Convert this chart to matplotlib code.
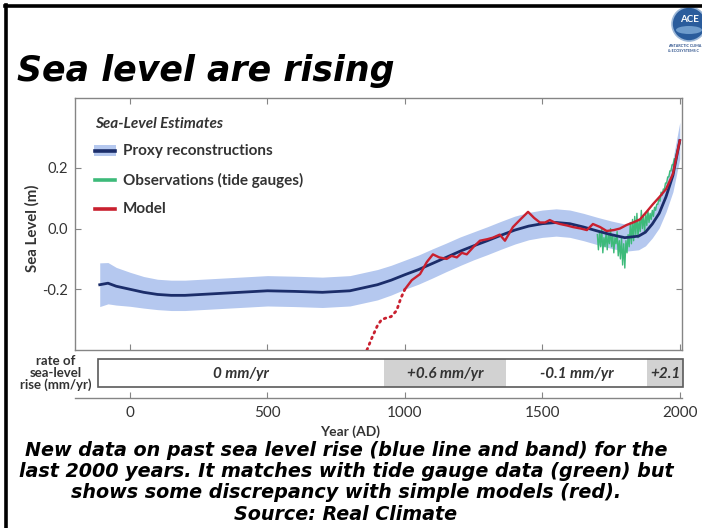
import matplotlib
matplotlib.use("Agg")
import matplotlib.pyplot as plt
import numpy as np
from matplotlib.lines import Line2D
from matplotlib.patches import Rectangle, Ellipse

# ---------------- data ----------------
proxy_years = [-110, -80, -50, 0, 50, 100, 150, 200, 300, 400, 500, 600, 700,
               800, 850, 900, 950, 1000, 1050, 1100, 1150, 1200, 1250, 1300,
               1350, 1400, 1450, 1500, 1550, 1600, 1650, 1700, 1750, 1800,
               1850, 1875, 1900, 1925, 1950, 1975, 2000]
proxy_level = [-0.185, -0.180, -0.190, -0.200, -0.210, -0.217, -0.220, -0.220,
               -0.215, -0.210, -0.205, -0.207, -0.210, -0.205, -0.195, -0.185,
               -0.170, -0.152, -0.135, -0.115, -0.095, -0.075, -0.057, -0.040,
               -0.022, -0.005, 0.008, 0.016, 0.020, 0.016, 0.005, -0.008,
               -0.020, -0.030, -0.025, -0.012, 0.015, 0.050, 0.105, 0.175, 0.290]
proxy_halfwidth = [0.072, 0.068, 0.062, 0.056, 0.052, 0.050, 0.050, 0.050,
                   0.050, 0.050, 0.050, 0.050, 0.050, 0.050, 0.050, 0.050,
                   0.049, 0.048, 0.048, 0.048, 0.047, 0.047, 0.046, 0.046,
                   0.046, 0.046, 0.045, 0.045, 0.045, 0.045, 0.045, 0.045,
                   0.045, 0.045, 0.045, 0.045, 0.046, 0.048, 0.050, 0.054, 0.060]

model_early_years = [862, 880, 900, 915, 930, 950, 970, 985, 1000]
model_early = [-0.40, -0.36, -0.32, -0.30, -0.295, -0.29, -0.27, -0.23, -0.20]

model_years = [1000, 1025, 1055, 1080, 1102, 1125, 1152, 1170, 1189, 1207,
               1225, 1250, 1273, 1300, 1320, 1345, 1364, 1393, 1420, 1448,
               1470, 1491, 1510, 1527, 1545, 1564, 1590, 1611, 1640, 1662,
               1684, 1710, 1734, 1760, 1782, 1807, 1830, 1855, 1880, 1902,
               1927, 1950, 1975, 2000]
model_level = [-0.200, -0.170, -0.150, -0.110, -0.085, -0.095, -0.100, -0.090,
               -0.095, -0.080, -0.085, -0.060, -0.040, -0.035, -0.030, -0.020,
               -0.040, 0.005, 0.030, 0.055, 0.035, 0.020, 0.020, 0.028,
               0.020, 0.015, 0.010, 0.005, 0.000, -0.005, 0.015, 0.005,
               -0.008, -0.005, 0.000, 0.012, 0.020, 0.030, 0.056, 0.080,
               0.105, 0.130, 0.180, 0.290]

gauge_years = list(range(1700, 2001, 4))
gauge_level = [
    -0.02, -0.07, -0.01, -0.06, 0.00, -0.08, -0.03, -0.06, -0.01, -0.07,
    -0.02, -0.05, 0.00, -0.06, -0.02, -0.08, -0.03, -0.05, -0.01, -0.09,
    -0.04, -0.10, -0.03, -0.12, -0.05,
    -0.13, -0.04, -0.08, -0.02, -0.06, 0.02, -0.05, 0.03, -0.04, 0.04,
    -0.02, 0.05, -0.03, 0.03, -0.01, 0.06, 0.00, 0.04, -0.01, 0.05,
    0.01, 0.06, 0.02, 0.05, 0.03,
    0.06, 0.04, 0.07, 0.06, 0.08, 0.08, 0.10, 0.09, 0.12, 0.11,
    0.13, 0.13, 0.15, 0.15, 0.17, 0.17, 0.19, 0.19, 0.21, 0.21,
    0.23, 0.23, 0.25, 0.26, 0.27,
    0.28]

rate_edges = [-115, 925, 1368, 1880, 2012]
rate_labels = ["0 mm/yr", "+0.6 mm/yr", "-0.1 mm/yr", "+2.1"]
rate_shaded = [False, True, False, True]

year_ticks = [0, 500, 1000, 1500, 2000]
level_ticks = [-0.2, 0.0, 0.2]
level_ticklabels = ["-0.2", "0.0", "0.2"]

caption = ["New data on past sea level rise (blue line and band) for the",
           "last 2000 years. It matches with tide gauge data (green) but",
           "shows some discrepancy with simple models (red).",
           "Source: Real Climate"]

# ---------------- style ----------------
BAND = "#b5c8ef"
NAVY = "#1b2d6a"
RED = "#c9202f"
GREEN = "#3dba7a"
SPINE = "#858585"
TXT = "#333333"
SHADE = "#d2d2d2"
CHART_FONT = ["Lato", "DejaVu Sans"]
SLIDE_FONT = ["DejaVu Sans"]

W, H = 702, 528
fig = plt.figure(figsize=(W / 100, H / 100), dpi=100)
fig.patch.set_facecolor("white")


def fx(p):
    return p / W


def fy(p):
    return 1 - p / H


XLIM = (-200, 2008)

# ---------------- main panel ----------------
ax = fig.add_axes([fx(75), fy(350), fx(682) - fx(75), fy(98) - fy(350)])
ax.set_xlim(*XLIM)
ax.set_ylim(-0.40, 0.43)

py = np.array(proxy_years)
pl = np.array(proxy_level)
hw = np.array(proxy_halfwidth)
ax.fill_between(py, pl - hw, pl + hw, color=BAND, lw=0, zorder=1)
ax.plot(gauge_years, gauge_level, color=GREEN, lw=1.0, zorder=2)
ax.plot(py, pl, color=NAVY, lw=2.0, zorder=3)
ax.plot(model_early_years, model_early, color=RED, lw=2.0,
        ls=(0, (0.6, 1.6)), dash_capstyle="round", zorder=4, clip_on=True)
ax.plot(model_years, model_level, color=RED, lw=1.7, zorder=4)

for s in ax.spines.values():
    s.set_color(SPINE)
    s.set_linewidth(1.0)
ax.set_xticks(year_ticks)
ax.set_yticks(level_ticks)
ax.set_yticklabels(level_ticklabels)
ax.tick_params(axis="x", direction="in", top=True, bottom=True,
               labelbottom=False, length=4, color=SPINE)
ax.tick_params(axis="y", direction="in", left=True, right=True, length=4,
               color=SPINE, labelsize=10.5, labelcolor=TXT, pad=5)
for t in ax.get_yticklabels():
    t.set_family(CHART_FONT)

# legend block
tr = ax.transAxes
ax.text(0.033, 0.897, "Sea-Level Estimates", transform=tr, fontsize=11,
        weight="bold", style="italic", color=TXT, family=CHART_FONT,
        va="center", ha="left")
leg_rows = [(0.79, "Proxy reconstructions", NAVY),
            (0.673, "Observations (tide gauges)", GREEN),
            (0.56, "Model", RED)]
for i, (yy, lab, col) in enumerate(leg_rows):
    if i == 0:
        ax.add_patch(Rectangle((0.031, yy - 0.022), 0.037, 0.044,
                               transform=tr, facecolor=BAND, lw=0))
    ax.add_line(Line2D([0.033, 0.066], [yy, yy], transform=tr, color=col,
                       lw=2.6))
    ax.text(0.079, yy, lab, transform=tr, fontsize=11, weight="bold",
            color=TXT, family=CHART_FONT, va="center", ha="left")

fig.text(fx(32), fy(228), "Sea Level (m)", rotation=90, fontsize=10.8,
         weight="bold", color=TXT, family=CHART_FONT, ha="center",
         va="center")

# ---------------- rate strip ----------------
rax = fig.add_axes([fx(75), fy(387), fx(682) - fx(75), fy(359) - fy(387)])
rax.set_xlim(*XLIM)
rax.set_ylim(0, 1)
rax.axis("off")
for i, lab in enumerate(rate_labels):
    x0, x1 = rate_edges[i], rate_edges[i + 1]
    rax.add_patch(Rectangle((x0, 0), x1 - x0, 1,
                            facecolor=SHADE if rate_shaded[i] else "white",
                            lw=0, clip_on=False))
    rax.text((x0 + x1) / 2, 0.48, lab, fontsize=11, weight="bold",
             style="italic", color=TXT, family=CHART_FONT, ha="center",
             va="center")
rax.add_patch(Rectangle((rate_edges[0], 0), rate_edges[-1] - rate_edges[0], 1,
                        facecolor="none", edgecolor="#5a5a5a", lw=1.2,
                        clip_on=False))
fig.text(fx(56), fy(373), "rate of\nsea-level\nrise (mm/yr)", fontsize=9.5,
         weight="bold", color=TXT, family=CHART_FONT, ha="center",
         va="center", linespacing=0.95)

# ---------------- year axis ----------------
bax = fig.add_axes([fx(75), fy(398), fx(682) - fx(75), 0.0001])
bax.set_xlim(*XLIM)
bax.set_yticks([])
for k in ("top", "left", "right"):
    bax.spines[k].set_visible(False)
bax.spines["bottom"].set_color(SPINE)
bax.spines["bottom"].set_linewidth(1.0)
bax.set_xticks(year_ticks)
bax.tick_params(axis="x", direction="in", length=4, color=SPINE,
                labelsize=11, labelcolor=TXT, pad=6)
for t in bax.get_xticklabels():
    t.set_family(CHART_FONT)
fig.text(fx(350), fy(432), "Year (AD)", fontsize=10, weight="bold",
         color=TXT, family=CHART_FONT, ha="center", va="center")

# ---------------- slide decoration ----------------
fig.add_artist(Line2D([fx(6), fx(6)], [fy(5), 0], color="black", lw=2.6))
fig.add_artist(Line2D([fx(5), 1], [fy(6), fy(6)], color="black", lw=2.6))

fig.text(fx(17), fy(81), "Sea level are rising", fontsize=25, weight="bold",
         style="italic", family=SLIDE_FONT, color="black", ha="left",
         va="baseline")

for j, line in enumerate(caption):
    fig.text(fx(346), fy(450 + 21.5 * j), line, fontsize=13.8, weight="bold",
             style="italic", family=SLIDE_FONT, color="black", ha="center",
             va="center")

# ACE logo
fig.add_artist(Ellipse((fx(689), fy(24)), 34 / W, 34 / H, facecolor="#2a5c9c",
                       edgecolor="#9db8d8", lw=1.2))
fig.add_artist(Ellipse((fx(689), fy(30)), 26 / W, 8 / H, facecolor="#6f9ccc",
                       lw=0))
fig.text(fx(689), fy(20), "ACE", fontsize=7, weight="bold", color="white",
         ha="center", va="center", family=CHART_FONT)
fig.text(fx(668), fy(46), "ANTARCTIC CLIMA", fontsize=2.7, color="#2a4f8a",
         ha="left", va="center", family=CHART_FONT, weight="bold")
fig.text(fx(668), fy(51), "& ECOSYSTEMS C", fontsize=2.7, color="#2a4f8a",
         ha="left", va="center", family=CHART_FONT, weight="bold")

fig.savefig("out.png", dpi=100)
